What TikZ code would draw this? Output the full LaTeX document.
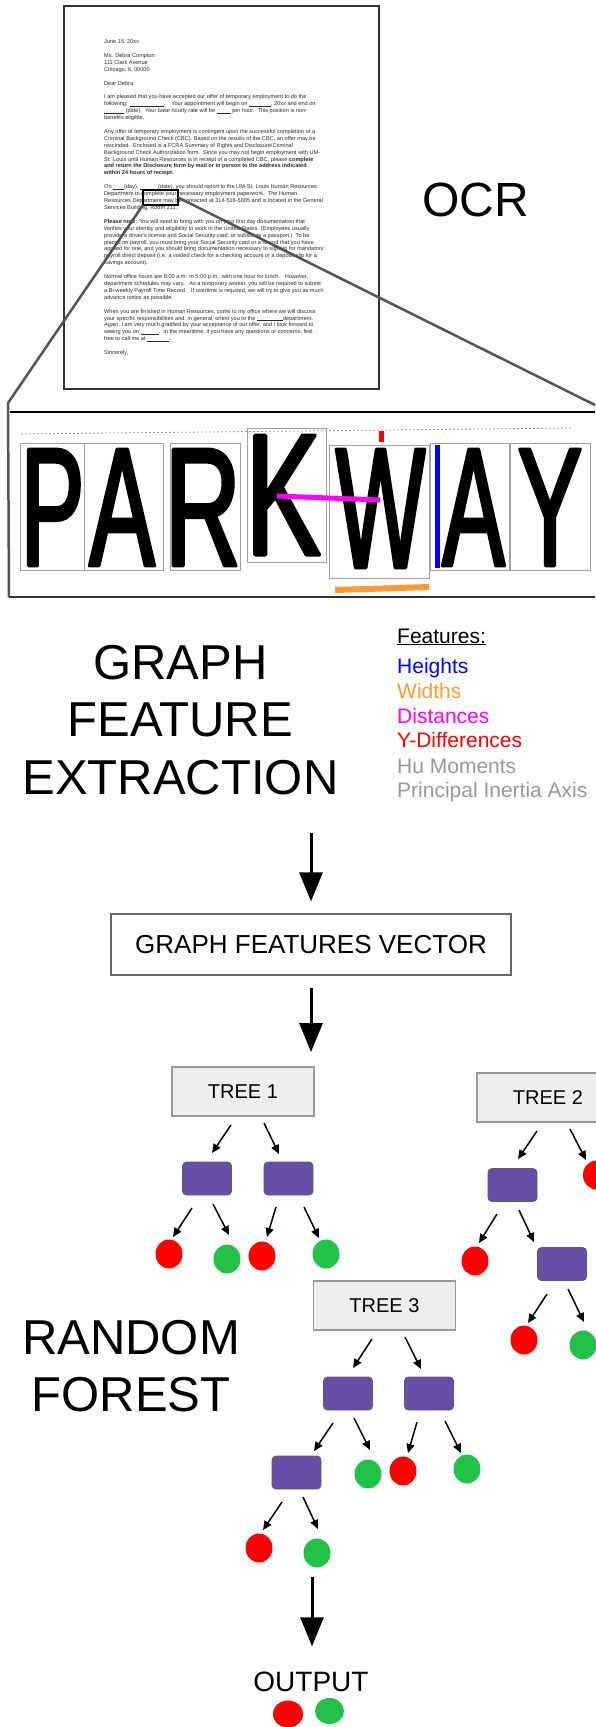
\documentclass[tikz,border=0pt]{standalone}
\usepackage{fontspec}
\setmainfont{Liberation Sans}
\newfontfamily\scanfont[FakeStretch=0.62,FakeBold=2]{Liberation Sans}
\usepackage{graphicx}
\usetikzlibrary{arrows.meta,shapes.geometric,calc}

\definecolor{leafpurple}{HTML}{674EA7}
\definecolor{leafedge}{HTML}{5A5A6A}
\definecolor{leafred}{HTML}{FF0000}
\definecolor{leafgreen}{HTML}{22C147}
\definecolor{boxgray}{HTML}{EEEEEE}
\definecolor{treeedge}{HTML}{999999}
\definecolor{vecedge}{HTML}{666666}
\definecolor{pageedge}{HTML}{333333}
\definecolor{lettergray}{HTML}{2A2A2A}
\definecolor{lensgray}{HTML}{555555}
\definecolor{charedge}{HTML}{A0A0A0}
\definecolor{dashgray}{HTML}{999999}
\definecolor{featblue}{HTML}{0000FF}
\definecolor{featorange}{HTML}{FF9933}
\definecolor{featmagenta}{HTML}{FF00FF}
\definecolor{featred}{HTML}{FF0000}
\definecolor{featgray}{HTML}{999999}

\newcommand{\fsz}[1]{\fontsize{#1pt}{#1pt}\selectfont}
% a large, narrow, heavy glyph as it appears in the scanned word (round joins on its outline)
\newcommand{\glyphbox}[3]{\resizebox{#1pt}{#2pt}{\special{pdf:literal direct 1 j}\scanfont\fontsize{100pt}{100pt}\selectfont #3}}
\newcommand{\blk}[1]{\rule[-0.5pt]{#1pt}{0.35pt}}
\newcommand{\branch}[6]{\draw[branch] ($(#1)+(#2,#3)$) -- ($(#4)+(#5,#6)$);}

\begin{document}
\begin{tikzpicture}[x=1pt,y=-1pt,
  treebox/.style={draw=treeedge, fill=boxgray, line width=1.2pt, minimum width=142pt,
    minimum height=49pt, inner sep=0pt, font=\fsz{20}},
  leafbox/.style={draw=leafedge, fill=leafpurple, line width=0.8pt, rounded corners=4pt,
    minimum width=49pt, minimum height=33pt, inner sep=0pt},
  redleaf/.style={ellipse, fill=leafred, minimum width=27pt, minimum height=29pt, inner sep=0pt},
  greenleaf/.style={ellipse, fill=leafgreen, minimum width=27pt, minimum height=29pt, inner sep=0pt},
  branch/.style={line width=1.5pt, -{Triangle[length=9pt,width=8pt]}},
  flow/.style={line width=3pt, -{Triangle[length=29pt,width=23pt]}},
  charbox/.style={draw=charedge, line width=0.9pt},
  lens/.style={draw=lensgray, line width=2.5pt, line join=round},
  glyph/.style={inner sep=0pt, anchor=base},
  feat/.style={anchor=base west, inner sep=0pt, font=\fsz{21}},
]
\fill[white] (0,0) rectangle (595,1727);
\useasboundingbox (0,0) rectangle (595,1727);

% ---------- scanned letter ----------
\node[draw=pageedge, line width=1.2pt, minimum width=315pt, minimum height=383pt,
  inner sep=0pt, outer sep=0pt] (page) at (221.5,197.5) {};
\node[anchor=north west, inner sep=0pt, align=left, text=lettergray,
  font=\fontsize{5.6pt}{6.91pt}\selectfont] (letter) at (104,39.5) {%
June 15, 20xx\\[6.91pt]
Ms. Debra Compton\\
111 Clark Avenue\\
Chicago, IL 00000\\[6.91pt]
Dear Debra:\\[6.91pt]
I am pleased that you have accepted our offer of temporary employment to do the\\
following: \blk{34}.\ \ \ \ Your appointment will begin on \blk{22}, 20xx and end on\\
\blk{20} (date).\ \ Your base hourly rate will be \blk{14} per hour.\ \ This position is non-\\
benefits eligible.\\[6.91pt]
Any offer of temporary employment is contingent upon the successful completion of a\\
Criminal Background Check (CBC). Based on the results of the CBC, an offer may be\\
rescinded.\ \ Enclosed is a FCRA Summary of Rights and Disclosure/Criminal\\
Background Check Authorization form.\ \ Since you may not begin employment with UM-\\
St. Louis until Human Resources is in receipt of a completed CBC, please \textbf{complete}\\
\textbf{and return the Disclosure form by mail or in person to the address indicated}\\
\textbf{within 24 hours of receipt.}\\[6.91pt]
On \blk{11}(day), \blk{18}(date), you should report to the UM-St. Louis Human Resources\\
Department to complete your necessary employment paperwork.\ \ The Human\\
Resources Department may be contacted at 314-516-5805 and is located in the General\\
Services Building, Room 211.\\[6.91pt]
\textbf{Please note:} You will need to bring with you on your first day documentation that\\
verifies your identity and eligibility to work in the United States. (Employees usually\\
provide a driver's license and Social Security card, or substitute a passport.)\ \ To be\\
placed on payroll, you must bring your Social Security card or a record that you have\\
applied for one, and you should bring documentation necessary to sign up for mandatory\\
payroll direct deposit (i.e. a voided check for a checking account or a deposit slip for a\\
savings account).\\[6.91pt]
Normal office hours are 8:00 a.m. to 5:00 p.m., with one hour for lunch.\ \ \ However,\\
department schedules may vary.\ \ \ As a temporary worker, you will be required to submit\\
a Bi-weekly Payroll Time Record.\ \ \ If overtime is required, we will try to give you as much\\
advance notice as possible.\\[6.91pt]
When you are finished in Human Resources, come to my office where we will discuss\\
your specific responsibilities and, in general, orient you to the \blk{26}department.\\
Again, I am very much gratified by your acceptance of our offer, and I look forward to\\
seeing you on \blk{18}.\ \ In the meantime, if you have any questions or concerns, feel\\
free to call me at \blk{22}.\\[6.91pt]
Sincerely,};

% highlighted word and the magnifier frame
\node[draw=black, line width=2.5pt, minimum width=35pt, minimum height=15pt,
  inner sep=0pt, outer sep=0pt] (hl) at (160.5,197.5) {};
\draw[lens] (hl.south west) -- (8,403) -- (9,597);
\draw[lens] (hl.east) -- (595,405);
\draw[draw=pageedge, line width=2.5pt] (9,597) -- (595,597);
\draw[black, line width=2.5pt] (10,412) -- (595,412);

\node[anchor=base, font=\fsz{48}, inner sep=0pt] (ocr) at (475.5,216) {OCR};

% ---------- segmented word ----------
\draw[dashgray, line width=0.8pt, dash pattern=on 2pt off 2pt] (21,434) -- (573,428);

\node[glyph] (gP)  at (52.5,565.75)  {\glyphbox{63.6}{116.5}{P}};
\node[glyph] (gA)  at (122,565.75)   {\glyphbox{65.5}{116.5}{A}};
\node[glyph] (gR)  at (202.8,565.75) {\glyphbox{76}{116.5}{R}};
\node[glyph] (gK)  at (283.2,554.75) {\glyphbox{74.7}{119.5}{K}};
\node[glyph] (gW)  at (380.5,567.75) {\glyphbox{89.4}{118.5}{W}};
\node[glyph] (gA2) at (473.5,565.75) {\glyphbox{62.5}{116.5}{A}};
\node[glyph] (gY)  at (550,565.75)   {\glyphbox{64.8}{116.5}{Y}};

\draw[charbox] (20,443) rectangle (84,570);
\draw[charbox] (84,443) rectangle (163,570);
\draw[charbox] (170,443) rectangle (240,570);
\draw[charbox] (247,428) rectangle (326,562);
\draw[charbox] (329,445) rectangle (429,578);
\draw[charbox] (430,443) rectangle (509,570);
\draw[charbox] (510,443) rectangle (590,570);

% measured features
\fill[featred] (379,431) rectangle (384,442);
\draw[featmagenta, line width=5pt] (277,496) -- (380,500);
\draw[featblue, line width=5pt] (437,445) -- (437,568);
\draw[featorange, line width=6pt] (335,590) -- (429,587);

% ---------- feature extraction ----------
\node[anchor=north, align=center, inner sep=0pt, font=\fontsize{49pt}{57.5pt}\selectfont]
  (gfe) at (180.5,645) {GRAPH\\FEATURE\\EXTRACTION};

\node[feat] (fhead) at (397,643) {\underline{Features:}};
\node[feat, text=featblue]    (fh) at (397,673) {Heights};
\node[feat, text=featorange]  (fw) at (397,698) {Widths};
\node[feat, text=featmagenta] (fd) at (397,723) {Distances};
\node[feat, text=featred]     (fy) at (397,747) {Y-Differences};
\node[feat, text=featgray]    (fm) at (397,773) {Hu Moments};
\node[feat, text=featgray]    (fp) at (397,797) {Principal Inertia Axis};

\node[draw=vecedge, line width=1.2pt, minimum width=400pt, minimum height=61pt,
  inner sep=0pt, font=\fsz{26}] (vec) at (311,944.5) {GRAPH FEATURES VECTOR};

\coordinate (a1s) at (311,833);
\draw[flow] (a1s) -- ([yshift=12pt]vec.north);
\coordinate (a2e) at (311,1052);
\draw[flow] ([yshift=-12pt]vec.south) -- (a2e);

% ---------- tree 1 ----------
\node[treebox] (t1) at (243,1091.5) {TREE 1};
\node[leafbox] (t1a) at (207,1178.5) {};
\node[leafbox] (t1b) at (288.5,1178.5) {};
\node[redleaf]   (t1c1) at (169,1254) {};
\node[greenleaf] (t1c2) at (227,1259) {};
\node[redleaf]   (t1c3) at (262,1256) {};
\node[greenleaf] (t1c4) at (326,1254) {};
\branch{t1}{-12}{33.5}{t1a}{5}{-25.5}
\branch{t1}{21}{31.5}{t1b}{-9.5}{-24.5}
\branch{t1a}{-15}{29.5}{t1c1}{4}{-17}
\branch{t1a}{6}{25.5}{t1c2}{2}{-24}
\branch{t1b}{-12.5}{28.5}{t1c3}{5}{-19}
\branch{t1b}{15.5}{28.5}{t1c4}{-7}{-16}

% ---------- tree 2 ----------
\node[treebox] (t2) at (548,1097.5) {TREE 2};
\node[leafbox] (t2a) at (512.5,1185) {};
\node[leafbox] (t2b) at (562,1264) {};
\node[redleaf]   (t2c1) at (596.5,1175) {};
\node[redleaf]   (t2c2) at (475,1261) {};
\node[redleaf]   (t2c3) at (524,1340) {};
\node[greenleaf] (t2c4) at (583,1345) {};
\branch{t2}{-11}{33.5}{t2a}{5.5}{-26}
\branch{t2}{22}{31.5}{t2c1}{-10.5}{-15}
\branch{t2a}{-15.5}{29}{t2c2}{4}{-18}
\branch{t2a}{6.5}{25}{t2b}{-28}{-22}
\branch{t2b}{-15}{30}{t2c3}{4}{-17}
\branch{t2b}{6}{25}{t2c4}{1}{-23}

% ---------- tree 3 ----------
\node[treebox] (t3) at (384.5,1305.5) {TREE 3};
\node[leafbox] (t3a) at (348,1393.5) {};
\node[leafbox] (t3b) at (429,1393.5) {};
\node[leafbox] (t3c) at (296.5,1472.5) {};
\node[greenleaf] (t3g1) at (368,1474) {};
\node[redleaf]   (t3r1) at (403,1471) {};
\node[greenleaf] (t3g2) at (467,1469) {};
\node[redleaf]   (t3r2) at (259,1548) {};
\node[greenleaf] (t3g3) at (317,1553) {};
\branch{t3}{-12.5}{33.5}{t3a}{5}{-25.5}
\branch{t3}{20.5}{31.5}{t3b}{-8}{-24.5}
\branch{t3a}{-15}{29.5}{t3c}{17.5}{-21.5}
\branch{t3a}{6}{24.5}{t3g1}{2}{-24}
\branch{t3b}{-12}{28.5}{t3r1}{5}{-18}
\branch{t3b}{16}{27.5}{t3g2}{-6}{-16}
\branch{t3c}{-14.5}{29.5}{t3r2}{4}{-18}
\branch{t3c}{6.5}{24.5}{t3g3}{1}{-24}

\node[anchor=north, align=center, inner sep=0pt, font=\fontsize{49pt}{57pt}\selectfont]
  (rf) at (131,1320) {RANDOM\\FOREST};

% ---------- output ----------
\node[anchor=base, inner sep=0pt, font=\fsz{28}] (out) at (311,1691) {OUTPUT};
\coordinate (a3s) at (312,1577);
\draw[flow] (a3s) -- ([xshift=1pt,yshift=25pt]out.north);
\node[ellipse, fill=leafred, minimum width=30pt, minimum height=27pt, inner sep=0pt] (ored) at (288,1714) {};
\node[ellipse, fill=leafgreen, minimum width=29pt, minimum height=26pt, inner sep=0pt] (ogreen) at (329.5,1711) {};
\end{tikzpicture}
\end{document}
